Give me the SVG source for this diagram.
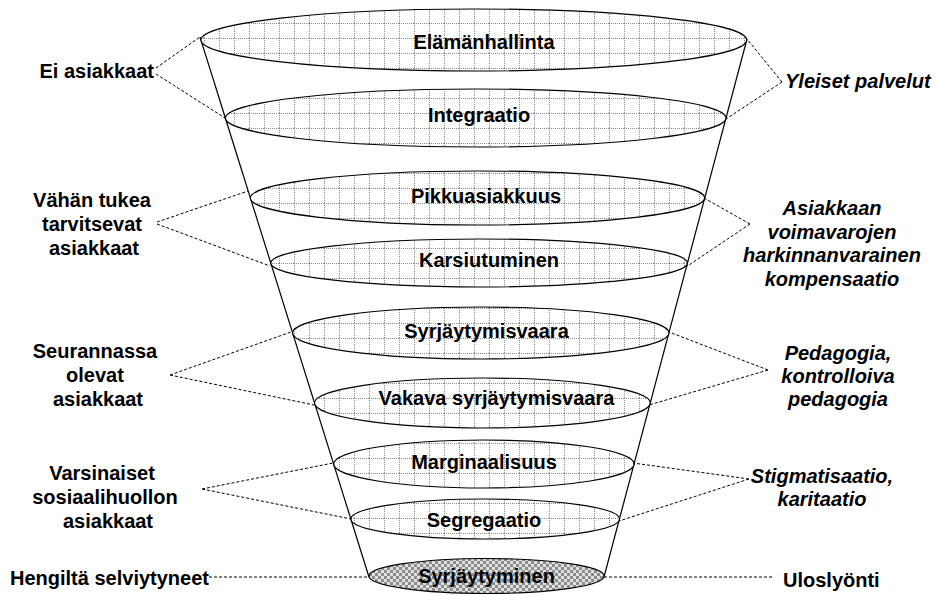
<svg xmlns="http://www.w3.org/2000/svg" width="938" height="595" viewBox="0 0 938 595">
<style>
.lvl{stroke:#000;stroke-width:1.2;fill:url(#grid)}
.bottom{stroke:#000;stroke-width:1.2;fill:url(#checker)}
.t{font-family:"Liberation Sans",Arial,sans-serif;font-size:20px;font-weight:bold;fill:#000;text-anchor:middle}
.ti{font-family:"Liberation Sans",Arial,sans-serif;font-size:20px;font-weight:bold;font-style:italic;fill:#000;text-anchor:middle}
.dash{stroke:#000;stroke-width:1;stroke-dasharray:3 2;fill:none}
.funnel{stroke:#000;stroke-width:1.2;fill:none}
</style>
<defs>
<pattern id="grid" x="9" y="8" width="15" height="15" patternUnits="userSpaceOnUse">
<rect width="15" height="15" fill="#fff"/>
<path d="M0 0.5H15M0.5 0V15" stroke="#8c8c8c" stroke-width="1" stroke-dasharray="1 1"/>
</pattern>
<pattern id="checker" width="6" height="6" patternUnits="userSpaceOnUse">
<rect width="6" height="6" fill="#e0e0e0"/>
<rect width="3" height="3" fill="#8c8c8c"/>
<rect x="3" y="3" width="3" height="3" fill="#8c8c8c"/>
</pattern>
</defs>
<rect width="938" height="595" fill="#fff"/>

<g id="funnel">
<line class="funnel" x1="200" y1="37" x2="369" y2="577"/>
<line class="funnel" x1="747" y1="39" x2="604" y2="577"/>
</g>

<g id="elamanhallinta"><ellipse class="lvl" cx="473.8" cy="40" rx="272.9" ry="31"/><text class="t" x="484" y="49">Elämänhallinta</text></g>
<g id="integraatio"><ellipse class="lvl" cx="475.7" cy="118" rx="250.3" ry="29"/><text class="t" x="479" y="122">Integraatio</text></g>
<g id="pikkuasiakkuus"><ellipse class="lvl" cx="477.5" cy="198" rx="227.2" ry="27"/><text class="t" x="486" y="203">Pikkuasiakkuus</text></g>
<g id="karsiutuminen"><ellipse class="lvl" cx="479.1" cy="263" rx="208.4" ry="24"/><text class="t" x="489" y="267">Karsiutuminen</text></g>
<g id="syrjaytymisvaara"><ellipse class="lvl" cx="480.8" cy="333" rx="188.2" ry="26"/><text class="t" x="486.5" y="338">Syrjäytymisvaara</text></g>
<g id="vakava"><ellipse class="lvl" cx="482.4" cy="403" rx="167.9" ry="25"/><text class="t" x="496.5" y="405">Vakava syrjäytymisvaara</text></g>
<g id="marginaalisuus"><ellipse class="lvl" cx="483.9" cy="464" rx="150.2" ry="24"/><text class="t" x="484" y="469">Marginaalisuus</text></g>
<g id="segregaatio"><ellipse class="lvl" cx="485.2" cy="519" rx="134.3" ry="20"/><text class="t" x="484" y="527">Segregaatio</text></g>
<g id="syrjaytyminen"><ellipse class="bottom" cx="486.5" cy="576" rx="117.5" ry="17.5"/><text class="t" x="486.5" y="583">Syrjäytyminen</text></g>

<g id="connectors">
<path class="dash" d="M156 68L200 37M156 74L225 118"/>
<path class="dash" d="M157 222L248 191M157 224L270 266"/>
<path class="dash" d="M170 375L291 332M170 375L314 405"/>
<path class="dash" d="M202 489L333 463M202 489L351 519"/>
<path class="dash" d="M209 577L369 577"/>
<path class="dash" d="M782 82L747 39M782 82L726 119"/>
<path class="dash" d="M750 224L704 198M750 224L686 267"/>
<path class="dash" d="M768 370L669 332M768 370L649 405"/>
<path class="dash" d="M749 479L633 463M749 479L619 521"/>
<path class="dash" d="M604 577L772 577"/>
</g>

<g id="label-ei-asiakkaat"><text class="t" x="154" y="78" style="text-anchor:end">Ei asiakkaat</text></g>
<g id="label-vahan-tukea"><text class="t" x="92" y="207">Vähän tukea</text><text class="t" x="92" y="231">tarvitsevat</text><text class="t" x="94" y="255">asiakkaat</text></g>
<g id="label-seurannassa"><text class="t" x="95" y="358">Seurannassa</text><text class="t" x="95" y="382">olevat</text><text class="t" x="98" y="406">asiakkaat</text></g>
<g id="label-varsinaiset"><text class="t" x="102" y="480">Varsinaiset</text><text class="t" x="105" y="504">sosiaalihuollon</text><text class="t" x="108" y="528">asiakkaat</text></g>
<g id="label-hengilta"><text class="t" x="10" y="585" style="text-anchor:start">Hengiltä selviytyneet</text></g>
<g id="label-yleiset"><text class="ti" x="785" y="88" style="text-anchor:start">Yleiset palvelut</text></g>
<g id="label-asiakkaan"><text class="ti" x="832" y="215">Asiakkaan</text><text class="ti" x="832" y="238.5">voimavarojen</text><text class="ti" x="832" y="262">harkinnanvarainen</text><text class="ti" x="832" y="285.5">kompensaatio</text></g>
<g id="label-pedagogia"><text class="ti" x="838" y="360">Pedagogia,</text><text class="ti" x="838" y="383">kontrolloiva</text><text class="ti" x="838" y="406">pedagogia</text></g>
<g id="label-stigmatisaatio"><text class="ti" x="822" y="483">Stigmatisaatio,</text><text class="ti" x="822" y="506">karitaatio</text></g>
<g id="label-uloslyonti"><text class="t" x="783" y="587" style="text-anchor:start">Uloslyönti</text></g>
</svg>
